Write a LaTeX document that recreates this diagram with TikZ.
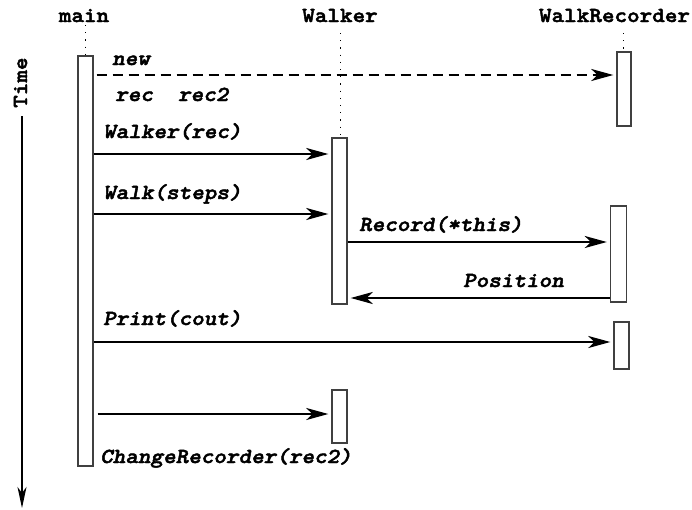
\documentclass[tikz,border=0pt]{standalone}
\usepackage{fontspec}
\newfontfamily\codefont{lmmonolt10-bold.otf}[
  ItalicFont=lmmonolt10-boldoblique.otf,
  FakeStretch=1.12,
  FakeBold=2.2]
\usetikzlibrary{arrows.meta}

\tikzset{
  lbl/.style={font=\fontsize{21.4}{25}\selectfont\codefont, inner sep=0pt},
  msgtxt/.style={lbl, font=\fontsize{21.4}{25}\selectfont\codefont\itshape, anchor=base west},
  head/.style={lbl, anchor=base},
  act/.style={draw=black!75, line width=1.4pt, fill=white, rectangle, inner sep=0pt},
  life/.style={line width=1pt, dash pattern=on 1.2pt off 6pt},
  msg/.style={line width=2pt, -{Stealth[length=22pt,width=12pt,inset=6pt]}, shorten >=3pt},
  ret/.style={msg, dash pattern=on 10pt off 6pt},
  tline/.style={line width=1.3pt, -{Stealth[length=21pt,width=9pt,inset=6pt]}}
}

\begin{document}
\begin{tikzpicture}[x=1pt,y=-1pt]
  \useasboundingbox (0,0) rectangle (692,509);

  % object headings
  \node[head] (hmain) at (84,22) {main};
  \node[head] (hwalk) at (340,22) {Walker};
  \node[head] (hrec)  at (614.5,22) {WalkRecorder};

  % activation bars
  \node[act, minimum width=15pt, minimum height=410pt] (mainact) at (85.5,261) {};
  \node[act, minimum width=15pt, minimum height=166pt] (walk1) at (339.5,221) {};
  \node[act, minimum width=15pt, minimum height=53pt]  (walk2) at (339.5,416.5) {};
  \node[act, minimum width=14pt, minimum height=74pt]  (rec1)  at (624,89) {};
  \node[act, minimum width=16pt, minimum height=96pt]  (rec2)  at (618.5,254) {};
  \node[act, minimum width=15pt, minimum height=47pt]  (rec3)  at (621.5,345.5) {};

  % lifelines
  \coordinate (lmain) at (85,25);
  \coordinate (lwalk) at (340,33);
  \coordinate (lrec)  at (623,33);
  \draw[life] (lmain) -- (lmain |- mainact.north);
  \draw[life] (lwalk) -- (lwalk |- walk1.north);
  \draw[life] (lrec)  -- (lrec |- rec1.north);

  % messages
  \draw[ret] (mainact.east |- 0,75) ++(3,0) -- (rec1.west |- 0,75);
  \draw[msg] (mainact.east |- 0,154) -- (walk1.west |- 0,154);
  \draw[msg] (mainact.east |- 0,214) -- (walk1.west |- 0,214);
  \draw[msg] (walk1.east |- 0,242) -- (rec2.west |- 0,242);
  \draw[msg] (rec2.west |- 0,298) -- (walk1.east |- 0,298);
  \draw[msg] (mainact.east |- 0,342) -- (rec3.west |- 0,342);
  \draw[msg] (mainact.east |- 0,414) ++(4,0) -- (walk2.west |- 0,414);

  % message labels
  \node[msgtxt] (tnew)    at (112,65)  {new};
  \node[msgtxt] (trec)    at (115,101) {rec\ \ rec2};
  \node[msgtxt] (twalker) at (103,138) {Walker(rec)};
  \node[msgtxt] (twalk)   at (103,199) {Walk(steps)};
  \node[msgtxt] (trecord) at (359,231) {Record(*this)};
  \node[msgtxt] (tpos)    at (463,287) {Position};
  \node[msgtxt] (tprint)  at (103,325) {Print(cout)};
  \node[msgtxt] (tchange) at (100,463) {ChangeRecorder(rec2)};

  % time axis
  \node[lbl, rotate=90, anchor=base west] (timelbl) at (27,108) {Time};
  \coordinate (tstart) at (22,116);
  \coordinate (tend) at (22,508);
  \draw[tline] (tstart) -- (tend);
\end{tikzpicture}
\end{document}
